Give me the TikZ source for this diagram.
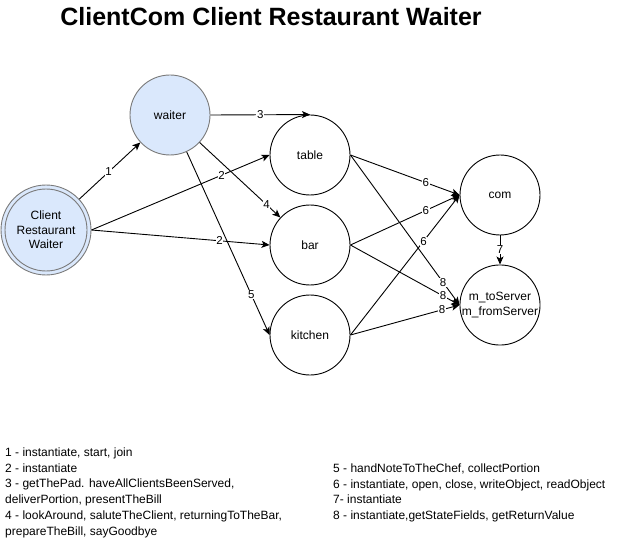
\documentclass[tikz,border=0pt]{standalone}
\usepackage{fontspec}
\setmainfont{Liberation Sans}
\usetikzlibrary{arrows.meta}
\definecolor{lblue}{HTML}{DAE8FC}
\definecolor{bstroke}{HTML}{7A7A7A}
\tikzset{
  state/.style={circle, draw=black, line width=0.9pt, minimum size=80pt, inner sep=0pt, align=center, font=\fontsize{12}{14.5}\selectfont},
  bluestate/.style={state, fill=lblue, draw=bstroke},
  conn/.style={line width=0.9pt, -{Stealth[length=8pt,width=7pt,inset=2pt]}},
  lbl/.style={fill=white, inner sep=0.6pt, font=\fontsize{11.5}{12}\selectfont},
  legend/.style={anchor=north west, inner sep=0pt, align=left, font=\fontsize{12}{15.8}\selectfont}
}
\begin{document}
\begin{tikzpicture}[x=1pt,y=-1pt]
\useasboundingbox (0,0) rectangle (621,548);
% title
\node[font=\fontsize{25}{28}\selectfont\bfseries] (title) at (271,17) {ClientCom Client Restaurant Waiter};
% nodes
\node[bluestate, minimum size=90pt] (client) at (46,230) {};
\fill[lblue, draw=bstroke, line width=0.9pt] (client.center) circle (41);
\node[align=center, font=\fontsize{12}{14.5}\selectfont] (clienttext) at (client.center) {Client\\Restaurant\\Waiter};
\node[bluestate] (waiter) at (170,115) {waiter};
\node[state] (table) at (310,155) {table};
\node[state] (bar) at (310,245) {bar};
\node[state] (kitchen) at (310,335) {kitchen};
\node[state] (com) at (500,195) {com};
\node[state] (m) at (500,305) {m\_toServer\\m\_fromServer};
% connectors
\draw[conn] (client) -- node[lbl, pos=0.48] {1} (waiter);
\draw[conn] (client.east) -- node[lbl, pos=0.73] {2} (table.west);
\draw[conn] (client.east) -- node[lbl, pos=0.72] {2} (bar.west);
\draw[conn] (waiter.east) -- node[lbl, pos=0.5] {3} (table.north);
\draw[conn] (waiter) -- node[lbl, pos=0.83] {4} (bar);
\draw[conn] (waiter) -- node[lbl, pos=0.78] {5} (kitchen.west);
\draw[conn] (table.east) -- node[lbl, pos=0.69] {6} (com.west);
\draw[conn] (bar.east) -- node[lbl, pos=0.69] {6} (com.west);
\draw[conn] (kitchen.east) -- node[lbl, pos=0.67] {6} (com.west);
\draw[conn] (com.south) -- node[lbl, pos=0.47] {7} (m.north);
\draw[conn] (table.east) -- node[lbl, pos=0.85] {8} (m.west);
\draw[conn] (bar.east) -- node[lbl, pos=0.85] {8} (m.west);
\draw[conn] (kitchen.east) -- node[lbl, pos=0.84] {8} (m.west);
% legend
\node[legend] (legL) at (5,447.5) {1 - instantiate, start, join\\2 - instantiate\\3 - getThePad. haveAllClientsBeenServed,\\deliverPortion, presentTheBill\\4 - lookAround, saluteTheClient, returningToTheBar,\\prepareTheBill, sayGoodbye};
\node[legend] (legR) at (333,463.5) {5 - handNoteToTheChef, collectPortion\\6 - instantiate, open, close, writeObject, readObject\\7- instantiate\\8 - instantiate,getStateFields, getReturnValue};
\end{tikzpicture}
\end{document}
